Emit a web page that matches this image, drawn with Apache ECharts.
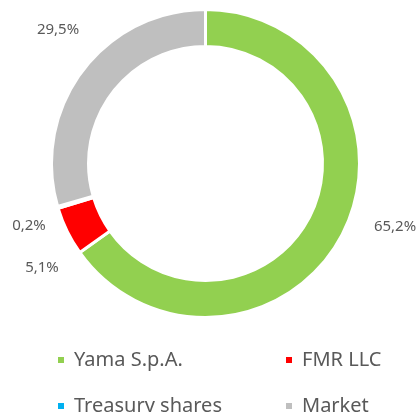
<!DOCTYPE html>
<html><head><meta charset="utf-8">
<script src="https://cdn.jsdelivr.net/npm/echarts@6/dist/echarts.min.js"></script>
<style>html,body{margin:0;padding:0;background:#fff}#c{width:420px;height:412px}</style>
</head><body><div id="c"></div>
<script>
var categories = ['Yama S.p.A.', 'FMR LLC', 'Treasury shares', 'Market'];
var values = [65.2, 5.1, 0.2, 29.5];
var labels = ['65,2%', '5,1%', '0,2%', '29,5%'];
var colors = ['#92D050', '#FF0000', '#00B0F0', '#BFBFBF'];
var labelPos = [[395, 227], [42, 268], [29, 226], [58, 30]];
var legendPos = [[56, 350], [284, 350], [56, 396], [284, 396]];

var chart = echarts.init(document.getElementById('c'));
var font = '"Noto Sans", sans-serif';
chart.setOption({
  animation: false,
  legend: categories.map(function (n, i) {
    return {data: [n], left: legendPos[i][0], top: legendPos[i][1], padding: 0,
      icon: 'rect', itemWidth: 8, itemHeight: 8,
      textStyle: {color: '#595959', fontSize: 20, fontFamily: font, padding: [0, 0, 0, 4]}};
  }),
  series: [{
    type: 'pie',
    center: [205.5, 163.5],
    radius: [117, 154],
    startAngle: 90,
    clockwise: true,
    itemStyle: {borderColor: '#fff', borderWidth: 3},
    label: {show: true, position: 'outside', color: '#595959', fontSize: 15, fontFamily: font,
      overflow: 'none', width: 80,
      formatter: function (p) { return labels[p.dataIndex]; }},
    labelLine: {show: false},
    labelLayout: function (p) {
      var pos = labelPos[p.dataIndex];
      return {x: pos[0], y: pos[1], align: 'center', verticalAlign: 'middle', hideOverlap: false};
    },
    data: categories.map(function (n, i) { return {name: n, value: values[i], itemStyle: {color: colors[i]}}; })
  }]
});
</script></body></html>
